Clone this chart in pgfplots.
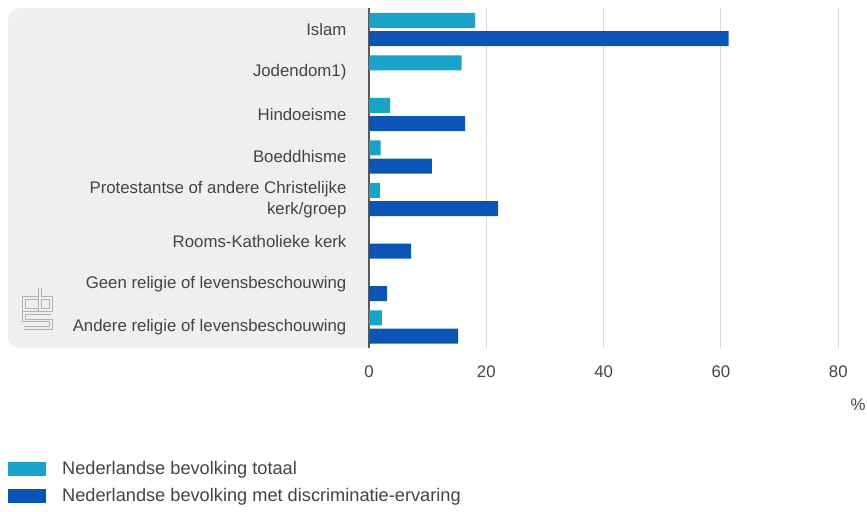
\documentclass[border=0pt]{standalone}
\usepackage{pgfplots}
\pgfplotsset{compat=1.18}
\usepackage{fontspec}
\setmainfont{Liberation Sans}
\definecolor{cbslight}{HTML}{1AA3C9}
\definecolor{cbsdark}{HTML}{0A55B5}
\definecolor{txt}{HTML}{444444}
\definecolor{panel}{HTML}{EFEFEF}
\begin{document}
\begin{tikzpicture}
\pgfplotsset{set layers}
\begin{axis}[
	xbar,
	scale only axis,
	width=246.4pt, height=170pt,
	xmin=0, xmax=84,
	ymin=-0.5, ymax=7.5,
	y dir=reverse,
	bar width=0.35,
	axis line style={draw=none},
	tick style={draw=none},
	xtick={20,40,60,80},
	xmajorgrids,
	grid style={gray!30, line width=0.5pt},
	extra x ticks={0},
	extra x tick style={grid style={gray!70!black, line width=1pt}},
	ytick={0,...,7},
	yticklabels={Islam, Jodendom1), Hindoeisme, Boeddhisme,
		{Protestantse of andere Christelijke\\kerk/groep},
		Rooms-Katholieke kerk, Geen religie of levensbeschouwing,
		Andere religie of levensbeschouwing},
	yticklabel style={align=right, font=\fontsize{8.4}{10.5}\selectfont, text=txt, xshift=-3.5pt},
	xticklabel style={font=\fontsize{8.4}{10}\selectfont, text=txt, yshift=-5.5pt},
	/pgf/number format/assume math mode=true,
	legend style={at={(-0.733,-0.32)}, anchor=north west, draw=none,
		font=\fontsize{9.1}{11}\selectfont, text=txt,
		row sep=1.5pt, inner sep=0pt,
		/tikz/every odd column/.append style={column sep=6pt}},
	legend cell align=left,
	legend image code/.code={\draw[#1, draw=none] (0pt,-3.5pt) rectangle (19pt,3.5pt);},
]
\begin{pgfonlayer}{axis background}
	\fill[panel, rounded corners=6pt] (axis description cs:-0.733,0) rectangle (axis description cs:0.02,1);
	\fill[white] (axis description cs:0,0) rectangle (axis description cs:0.03,1);
\end{pgfonlayer}

% totaal
\addplot[fill=cbslight, draw=none, bar shift=-0.21] coordinates {
	(18.1,0) (15.8,1) (3.6,2) (2.0,3) (1.9,4) (0,5) (0,6) (2.2,7)
};
% met discriminatie-ervaring
\addplot[fill=cbsdark, draw=none, bar shift=0.22] coordinates {
	(61.3,0) (0,1) (16.4,2) (10.7,3) (22.0,4) (7.2,5) (3.1,6) (15.2,7)
};
\legend{Nederlandse bevolking totaal, Nederlandse bevolking met discriminatie-ervaring}

\coordinate (O) at (axis description cs:0,0);
\end{axis}
\node[font=\fontsize{8.4}{10}\selectfont, text=txt] at ([shift={(244.5pt,-28.5pt)}]O) {\%};
% cbs logo, outlined strokes
\foreach \w/\c in {1.7pt/gray!60, 0.6pt/panel} {
\begin{scope}[shift={(O)}, draw=\c, line width=\w]
	\draw (-165.5pt,25pt) -- (-172.5pt,25pt) -- (-172.5pt,19pt) -- (-165.5pt,19pt);
	\draw (-164.5pt,30pt) -- (-164.5pt,19pt) -- (-159pt,19pt) -- (-159pt,25pt) -- (-164.5pt,25pt);
	\draw (-159pt,17.5pt) -- (-172.5pt,17.5pt) -- (-172.5pt,13.75pt) -- (-159pt,13.75pt) -- (-159pt,10pt) -- (-172.5pt,10pt);
\end{scope}
}
\pgfresetboundingbox
\path ([shift={(-184.5pt,-81.5pt)}]O) rectangle ++(433.5pt,255.5pt);
\end{tikzpicture}
\end{document}
